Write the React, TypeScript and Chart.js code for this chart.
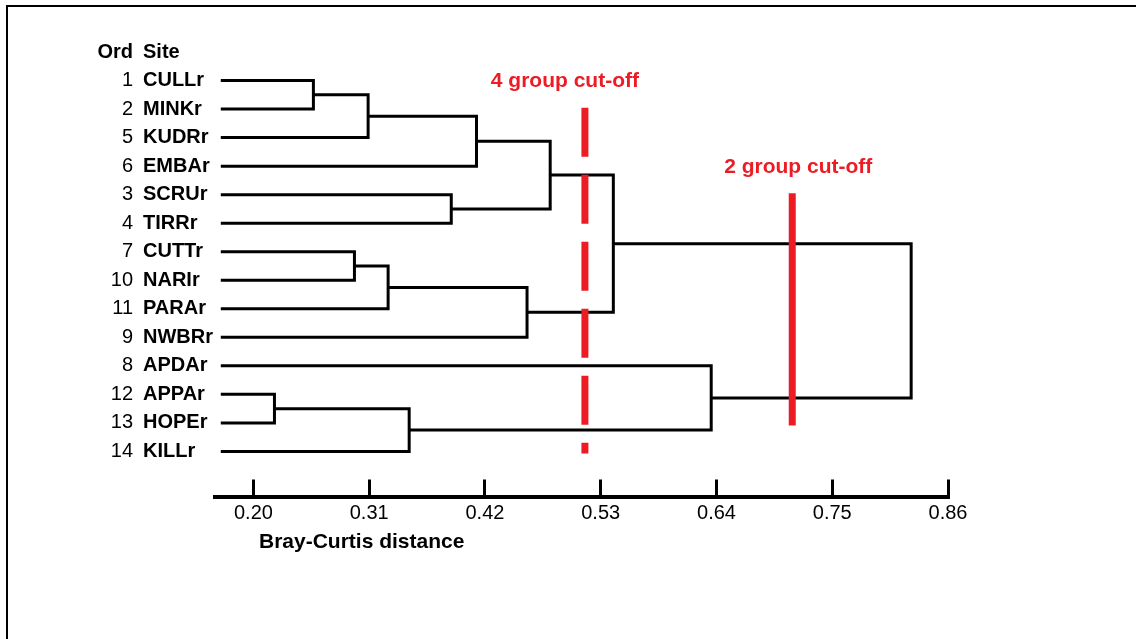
import React, { useEffect, useRef } from 'react';
import { Chart, registerables } from 'chart.js';

Chart.register(...registerables);

// Leaves in dendrogram order (top to bottom)
const sites = ['CULLr', 'MINKr', 'KUDRr', 'EMBAr', 'SCRUr', 'TIRRr', 'CUTTr', 'NARIr', 'PARAr', 'NWBRr', 'APDAr', 'APPAr', 'HOPEr', 'KILLr'];
const ords = [1, 2, 5, 6, 3, 4, 7, 10, 11, 9, 8, 12, 13, 14];

// Linkage (index < 14 = leaf, 14 + k = cluster formed by merge k)
const mergeLeft = [0, 14, 15, 4, 16, 6, 19, 20, 18, 11, 23, 10, 22];
const mergeRight = [1, 2, 3, 5, 17, 7, 8, 9, 21, 12, 13, 24, 25];
const mergeHeights = [0.257, 0.309, 0.412, 0.388, 0.482, 0.296, 0.328, 0.46, 0.542, 0.22, 0.348, 0.635, 0.825];
const leafStart = 0.169;

const tickValues = [0.2, 0.31, 0.42, 0.53, 0.64, 0.75, 0.86];
const axisTitle = 'Bray-Curtis distance';

const cutoffValues = [0.515, 0.712];
const cutoffLabels = ['4 group cut-off', '2 group cut-off'];
const cutoffTop = [0.95, 3.95];
const cutoffBottom = [13.07, 12.09];

const FONT = '"Liberation Sans", Arial, Helvetica, sans-serif';
const RED = '#ED1C24';

export default function App() {
  const canvasRef = useRef<HTMLCanvasElement | null>(null);

  useEffect(() => {
    if (!canvasRef.current) return;

    const nodeY: number[] = sites.map((_, i) => i);
    const nodeH: number[] = sites.map(() => leafStart);
    const treeSets: any[] = [];
    mergeLeft.forEach((a, k) => {
      const b = mergeRight[k];
      const h = mergeHeights[k];
      treeSets.push({
        label: 'merge ' + k,
        data: [
          { x: nodeH[a], y: nodeY[a] },
          { x: h, y: nodeY[a] },
          { x: h, y: nodeY[b] },
          { x: nodeH[b], y: nodeY[b] },
        ],
        showLine: true,
        borderColor: '#000',
        borderWidth: 3,
        pointRadius: 0,
        borderJoinStyle: 'miter',
        borderCapStyle: 'butt',
        order: 1,
      });
      nodeY.push((nodeY[a] + nodeY[b]) / 2);
      nodeH.push(h);
    });

    const cutSets = cutoffValues.map((v, i) => ({
      label: cutoffLabels[i],
      data: [
        { x: v, y: cutoffTop[i] },
        { x: v, y: cutoffBottom[i] },
      ],
      showLine: true,
      borderColor: RED,
      borderWidth: 7,
      borderDash: i === 0 ? [49, 18] : [],
      borderCapStyle: 'butt',
      pointRadius: 0,
      order: 0,
    }));

    const labelPlugin = {
      id: 'dendroLabels',
      afterDraw(chart: any) {
        const ctx = chart.ctx;
        const xs = chart.scales.x;
        const ys = chart.scales.y;
        ctx.save();
        ctx.fillStyle = '#000';
        ctx.textBaseline = 'middle';
        // header
        const hy = ys.getPixelForValue(-1);
        ctx.font = `bold 20px ${FONT}`;
        ctx.textAlign = 'right';
        ctx.fillText('Ord', 133, hy);
        ctx.textAlign = 'left';
        ctx.fillText('Site', 143, hy);
        // rows
        sites.forEach((s, i) => {
          const y = ys.getPixelForValue(i);
          ctx.font = `20px ${FONT}`;
          ctx.textAlign = 'right';
          ctx.fillText(String(ords[i]), 133, y);
          ctx.font = `bold 20px ${FONT}`;
          ctx.textAlign = 'left';
          ctx.fillText(s, 143, y);
        });
        // cut-off labels
        ctx.fillStyle = RED;
        ctx.font = `bold 21px ${FONT}`;
        ctx.textAlign = 'center';
        const offs = [-20, 6];
        cutoffValues.forEach((v, i) => {
          const px = xs.getPixelForValue(v);
          const py = ys.getPixelForValue(cutoffTop[i]);
          ctx.fillText(cutoffLabels[i], px + offs[i], py - 26);
        });
        // axis title
        ctx.fillStyle = '#000';
        ctx.font = `bold 21px ${FONT}`;
        ctx.textAlign = 'left';
        ctx.fillText(axisTitle, 259, 542);
        ctx.restore();
      },
    };

    const chart = new Chart(canvasRef.current, {
      type: 'scatter',
      data: { datasets: [...cutSets, ...treeSets] as any },
      options: {
        animation: false,
        responsive: false,
        devicePixelRatio: 1,
        layout: { padding: { left: 215, right: 188, top: 23.5, bottom: 92.5 } },
        plugins: { legend: { display: false }, tooltip: { enabled: false }, title: { display: false } },
        scales: {
          x: {
            type: 'linear',
            position: 'bottom',
            min: 0.1635,
            max: 0.86,
            afterBuildTicks: (scale: any) => {
              scale.ticks = tickValues.map((v) => ({ value: v }));
            },
            ticks: {
              autoSkip: false,
              maxRotation: 0,
              padding: 21.5,
              color: '#000',
              font: { family: FONT, size: 20 },
              callback: (v: any) => Number(v).toFixed(2),
            },
            grid: {
              drawOnChartArea: false,
              drawTicks: true,
              tickLength: -17,
              tickWidth: 3,
              tickColor: '#000',
              color: '#000',
            },
            border: { display: true, color: '#000', width: 4 },
          },
          y: {
            type: 'linear',
            display: false,
            reverse: true,
            min: -2,
            max: 14.58,
          },
        },
      },
      plugins: [labelPlugin],
    });

    return () => chart.destroy();
  }, []);

  return (
    <div style={{ position: 'fixed', left: 0, top: 0, width: 1136, height: 639, overflow: 'hidden', background: '#fff' }}>
      <div style={{ position: 'absolute', left: 6, top: 5, width: 1300, height: 800, border: '2px solid #000' }} />
      <canvas ref={canvasRef} width={1136} height={639} style={{ position: 'absolute', left: 0, top: 0 }} />
    </div>
  );
}
